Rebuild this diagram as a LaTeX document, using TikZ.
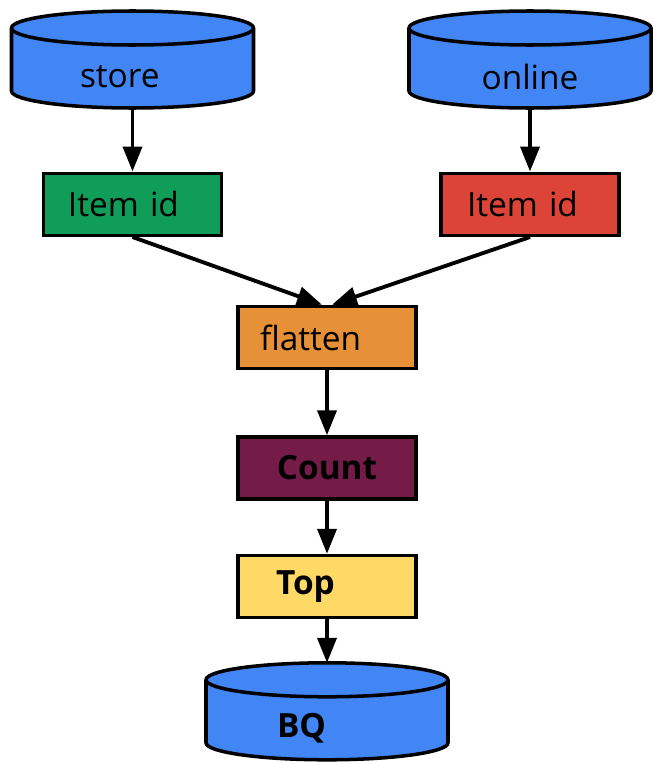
\documentclass[tikz,border=0pt]{standalone}
\usepackage{fontspec}
\setmainfont{Open Sans}
\usetikzlibrary{positioning,arrows.meta,backgrounds,calc}

\definecolor{dbblue}{HTML}{4285F4}
\definecolor{itemgreen}{HTML}{0F9D58}
\definecolor{itemred}{HTML}{DB4437}
\definecolor{flatorange}{HTML}{E69138}
\definecolor{countplum}{HTML}{741B47}
\definecolor{topyellow}{HTML}{FFD966}

% cylinder drawn round a db node (node = front face)
\newcommand{\dbbody}[1]{%
  \draw[rim, fill=dbblue] ($(#1.north west)+(0,0.34)$) -- ($(#1.south west)+(0,0.34)$)
    arc[start angle=180, end angle=360, x radius=2.42cm, y radius=0.34cm]
    -- ($(#1.north east)+(0,0.34)$)
    arc[start angle=0, end angle=180, x radius=2.42cm, y radius=0.34cm] -- cycle;
  \draw[rim] ($(#1.north west)+(0,0.34)$)
    arc[start angle=180, end angle=360, x radius=2.42cm, y radius=0.34cm];}

\begin{document}
\begin{tikzpicture}[
    font=\fontsize{19}{23}\selectfont,
    rim/.style={line width=2pt, line join=round},
    db/.style={minimum width=4.84cm, minimum height=1.26cm, inner sep=0pt, outer sep=0pt},
    stage/.style={draw, line width=2pt, minimum width=3.56cm, minimum height=1.24cm,
                  inner sep=2pt},
    lefttext/.style={text width=#1, align=left},
    arr/.style={-{Triangle[length=0.5cm, width=0.38cm]}, line width=2.2pt},
  ]
    \useasboundingbox (0,0) rectangle (13.08,-15.24);

    % Sources
    \node[db, lefttext=2.1cm] (store)  at (2.65,-1.53) {store};
    \node[db]                 (online) at (10.6,-1.53) {online};

    % Item ids
    \node[stage, fill=itemgreen, lefttext=2.58cm, below=1.27cm of store]  (itemS) {Item id};
    \node[stage, fill=itemred,   lefttext=2.52cm, below=1.27cm of online] (itemO) {Item id};

    % Center lane
    \node[stage, fill=flatorange, lefttext=2.68cm] (flatten) at (6.54,-6.75) {flatten};
    \node[stage, fill=countplum, font=\fontsize{19}{23}\selectfont\bfseries,
          below=1.3cm of flatten] (count) {Count};
    \node[stage, fill=topyellow, font=\fontsize{19}{23}\selectfont\bfseries,
          lefttext=2.04cm, below=1.06cm of count] (top) {Top};
    \node[db, font=\fontsize{19}{23}\selectfont\bfseries, lefttext=2.0cm,
          below=1.55cm of top] (bq) {BQ};

    % Cylinders
    \begin{scope}[on background layer]
      \dbbody{store}
      \dbbody{online}
      \dbbody{bq}
    \end{scope}

    % Arrows
    \draw[arr] (store)  -- (itemS);
    \draw[arr] (online.south) -- (online.south |- itemO.north);
    \draw[arr] (itemS.south) -- ([xshift=-0.1cm]flatten.north);
    \draw[arr] (itemO.south) -- ([xshift=0.1cm]flatten.north);
    \draw[arr] (flatten) -- (count);
    \draw[arr] (count)   -- (top);
    \draw[arr] (top)     -- ($(bq.north)+(0,0.68)$);
  \end{tikzpicture}
\end{document}
